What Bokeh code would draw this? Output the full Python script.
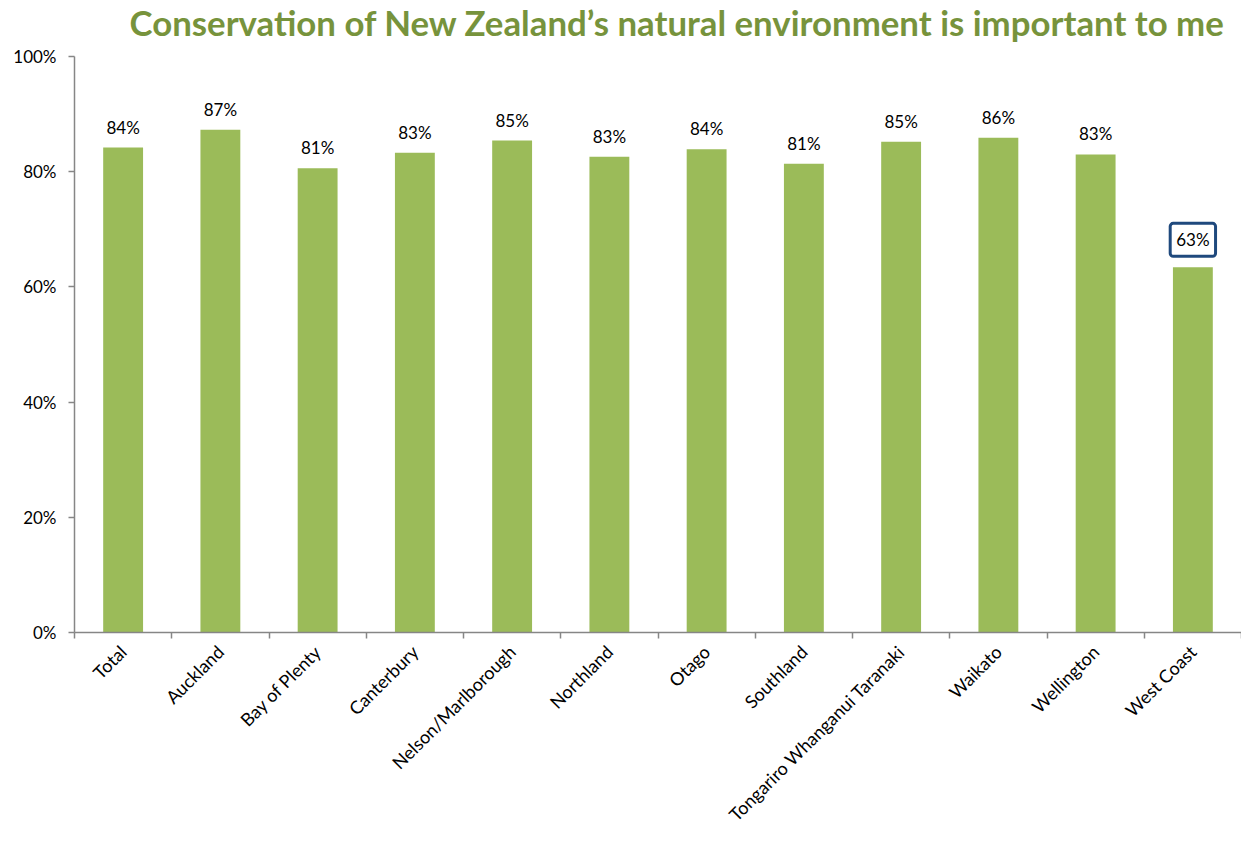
import math
from bokeh.plotting import figure
from bokeh.models import ColumnDataSource, Range1d, FixedTicker, NumeralTickFormatter, LinearAxis
from bokeh.core.properties import value
from bokeh.embed import file_html
from bokeh.resources import INLINE

title_text = "Conservation of New Zealand\u2019s natural environment is important to me"
categories = ["Total", "Auckland", "Bay of Plenty", "Canterbury", "Nelson/Marlborough",
              "Northland", "Otago", "Southland", "Tongariro Whanganui Taranaki",
              "Waikato", "Wellington", "West Coast"]
values = [0.842, 0.873, 0.806, 0.833, 0.854, 0.826, 0.839, 0.814, 0.852, 0.859, 0.830, 0.634]
y_ticks = [0.0, 0.2, 0.4, 0.6, 0.8, 1.0]
highlight = "West Coast"

n = len(categories)
xs = list(range(n))
labels = [f"{round(v * 100)}%" for v in values]

bar_src = ColumnDataSource(dict(x=xs, top=values, label=labels))
norm_idx = [i for i, c in enumerate(categories) if c != highlight]
hi_idx = [i for i, c in enumerate(categories) if c == highlight]
norm_src = ColumnDataSource(dict(x=[xs[i] for i in norm_idx], top=[values[i] for i in norm_idx],
                                 label=[labels[i] for i in norm_idx]))
hi_src = ColumnDataSource(dict(x=[xs[i] for i in hi_idx], top=[values[i] for i in hi_idx],
                               label=[labels[i] for i in hi_idx]))

FONT = "Lato"
AXIS_GREY = "#868686"

# frame spans the full top of the canvas; 100% sits 56px below the top edge
Y_TOP = 1.0 + 56.0 / 576.0

p = figure(width=1241, height=837, x_range=Range1d(-0.5, n - 0.5), y_range=Range1d(0, Y_TOP),
           output_backend="svg", toolbar_location=None, x_axis_type=None,
           min_border_left=74, min_border_right=0, min_border_top=0, min_border_bottom=205)

p.grid.visible = False
p.outline_line_color = None

# title drawn as text near the top edge of the frame
p.text(x=[-0.5], y=[Y_TOP], text=[title_text], x_offset=55, y_offset=22,
       text_align="left", text_baseline="alphabetic",
       text_font=value(FONT), text_font_style="bold", text_font_size="34.8px",
       text_color="#77933C")

p.vbar(x="x", top="top", bottom=0, width=0.41, source=bar_src,
       fill_color="#9BBB59", line_color=None)

p.text(x="x", y="top", text="label", source=norm_src, y_offset=-10,
       text_align="center", text_baseline="bottom",
       text_font=value(FONT), text_font_size="17px", text_color="#000000")
p.text(x="x", y="top", text="label", source=hi_src, y_offset=-11,
       text_align="center", text_baseline="bottom",
       text_font=value(FONT), text_font_size="17px", text_color="#000000",
       border_line_color="#1F497D", border_line_width=3, background_fill_color="white",
       padding=6, border_radius=3)

xaxis = LinearAxis(ticker=FixedTicker(ticks=xs, minor_ticks=[i - 0.5 for i in range(n + 1)]))
xaxis.major_label_overrides = {i: c for i, c in zip(xs, categories)}
xaxis.major_tick_line_color = None
xaxis.major_tick_out = 0
xaxis.major_tick_in = 0
xaxis.minor_tick_line_color = AXIS_GREY
xaxis.minor_tick_line_width = 1.5
xaxis.minor_tick_out = 6
xaxis.minor_tick_in = 0
xaxis.axis_line_color = AXIS_GREY
xaxis.axis_line_width = 1.5
xaxis.major_label_orientation = math.pi / 4
xaxis.major_label_text_font = FONT
xaxis.major_label_text_font_size = "18px"
xaxis.major_label_text_color = "#000000"
xaxis.major_label_standoff = 10
p.add_layout(xaxis, "below")

yaxis = p.yaxis[0]
yaxis.ticker = FixedTicker(ticks=y_ticks)
yaxis.formatter = NumeralTickFormatter(format="0%")
yaxis.bounds = (0, 1)
yaxis.major_tick_out = 6
yaxis.major_tick_in = 0
yaxis.major_tick_line_color = AXIS_GREY
yaxis.major_tick_line_width = 1.5
yaxis.minor_tick_line_color = None
yaxis.axis_line_color = AXIS_GREY
yaxis.axis_line_width = 1.5
yaxis.major_label_text_font = FONT
yaxis.major_label_text_font_size = "17px"
yaxis.major_label_text_color = "#000000"
yaxis.major_label_standoff = 12

open("out.html", "w").write(file_html(p, INLINE))
